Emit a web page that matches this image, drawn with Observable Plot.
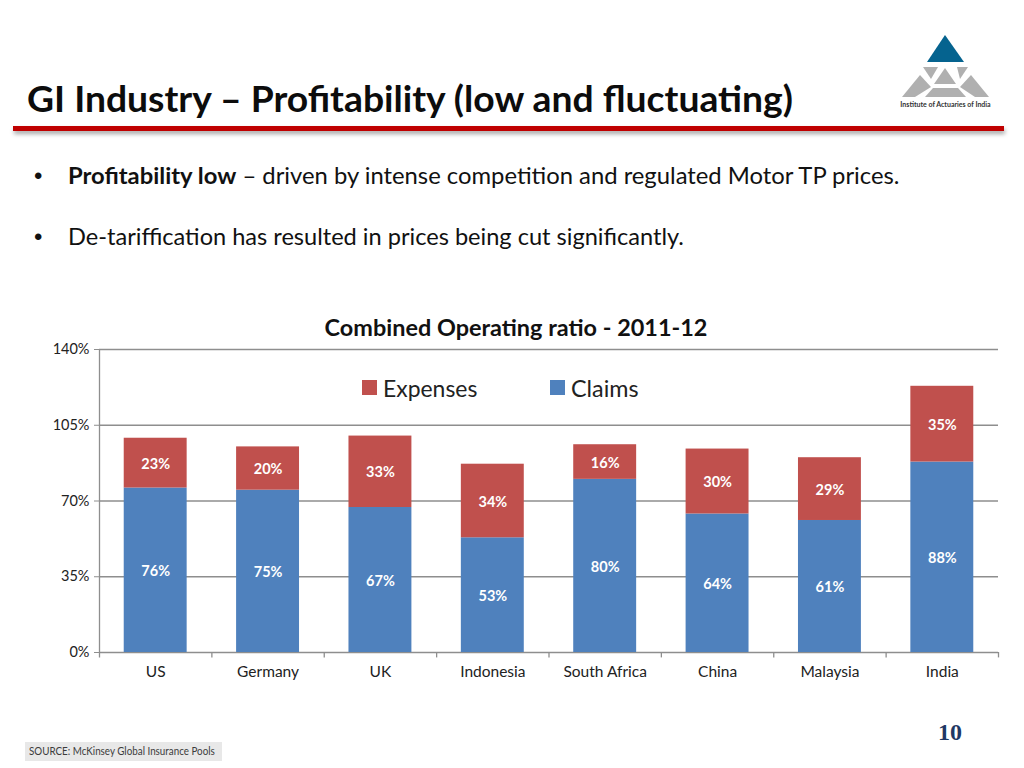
<!DOCTYPE html>
<html><head><meta charset="utf-8">
<script src="https://cdn.jsdelivr.net/npm/d3@7"></script>
<script src="https://cdn.jsdelivr.net/npm/@observablehq/plot@0.6"></script>
<style>
html,body{margin:0;padding:0;background:#fff;width:1024px;height:768px;overflow:hidden;font-family:Lato,"Open Sans",sans-serif;color:#111}
#chart{position:absolute;left:0;top:0}
.t{position:absolute;white-space:nowrap;line-height:1}
svg{display:block}
</style></head><body>
<div id="chart"></div>
<div class="t" style="left:27px;top:80px;font-size:36px;font-weight:700;color:#0c0c0c;transform-origin:0 0;transform:scaleX(1.035)">GI Industry – Profitability (low and fluctuating)</div>
<div style="position:absolute;left:13px;top:126px;width:991px;height:4.5px;background:#c00000;box-shadow:1px 3px 4px rgba(0,0,0,.35)"></div>
<svg style="position:absolute;left:0;top:0" width="1024" height="140">
<polygon points="945,35 927,62 964,62" fill="#05638f"/>
<g fill="#b0b0b0">
<polygon points="923,67 938,67 931,79"/><polygon points="957,67 968,67 960,79"/>
<polygon points="945,68 956,84 934,84"/>
<polygon points="902,97 920,75 931,87 915,97"/><polygon points="925,97 933,88 958,88 966,97"/>
<polygon points="989,97 971,75 960,87 975,97"/>
</g>
<text x="945.500" y="107" text-anchor="middle" font-size="7" font-weight="700" fill="#333" font-family="Lato">Institute of Actuaries of India</text>
</svg>
<div class="t" style="left:34px;top:164px;font-size:24px;font-family:'Liberation Sans'">•</div>
<div class="t" style="left:68px;top:164px;font-size:23px;transform-origin:0 0;transform:scaleX(1.035)"><b>Profitability low</b> – driven by intense competition and regulated Motor TP prices.</div>
<div class="t" style="left:34px;top:225px;font-size:24px;font-family:'Liberation Sans'">•</div>
<div class="t" style="left:68px;top:225px;font-size:23px;transform-origin:0 0;transform:scaleX(1.025)">De-tariffication has resulted in prices being cut significantly.</div>
<div class="t" style="left:0;width:1032px;text-align:center;top:316px;font-size:23px;font-weight:700;transform-origin:516px 0;transform:scaleX(1.019)">Combined Operating ratio - 2011-12</div>
<div style="position:absolute;left:362px;top:380px;width:15px;height:15px;background:#c0504d"></div>
<div class="t" style="left:383px;top:377px;font-size:23px;color:#222;transform-origin:0 0;transform:scaleX(.997)">Expenses</div>
<div style="position:absolute;left:550px;top:380px;width:15px;height:15px;background:#4f81bd"></div>
<div class="t" style="left:571px;top:377px;font-size:23px;color:#222;transform-origin:0 0;transform:scaleX(1.015)">Claims</div>
<div class="t" style="left:938px;top:720px;font-size:24px;font-weight:700;font-family:'Liberation Serif',serif;color:#1f3864">10</div>
<div style="position:absolute;left:25px;top:742px;width:197px;height:19px;background:#e8e8e8"></div>
<div class="t" style="left:29px;top:745px;font-size:12px;color:#3c3c3c;transform-origin:0 0;transform:scaleX(.818)">SOURCE: McKinsey Global Insurance Pools</div>
<script>
const categories = ["US","Germany","UK","Indonesia","South Africa","China","Malaysia","India"];
const claims = [76,75,67,53,80,64,61,88];
const expenses = [23,20,33,34,16,30,29,35];
const yTicks = [0,35,70,105,140];
const seriesNames = ["Claims","Expenses"];
const seriesColors = ["#4f81bd","#c0504d"];

const rows = categories.flatMap((c,i)=>[
  {category:c, series:"Claims", value:claims[i]},
  {category:c, series:"Expenses", value:expenses[i]}
]);
const W=1024,H=768,ML=99,MR=26,MT=349,MB=116;
const step=(W-ML-MR)/categories.length;
const grey="#8e8e8e";
const plot = Plot.plot({
  width:W,height:H,marginLeft:ML,marginRight:MR,marginTop:MT,marginBottom:MB,
  style:{fontFamily:"Lato, sans-serif",background:"transparent"},
  x:{domain:categories,paddingInner:0.44,paddingOuter:0.22,align:0.5,round:false,label:null},
  y:{domain:[0,140],label:null},
  color:{domain:seriesNames,range:seriesColors},
  marks:[
    Plot.ruleY(yTicks,{stroke:grey,strokeWidth:1.300}),
    Plot.barY(rows,{x:"category",y:"value",fill:"series",order:seriesNames}),
    Plot.text(rows,Plot.stackY({x:"category",y:"value",z:"series",order:seriesNames,text:d=>d.value+"%",fill:"white",fontWeight:700,fontSize:14.500,dy:1})),
    Plot.ruleX(categories.slice(0,1),{x:d=>d,y1:-2.500,y2:140,dx:-step/2,stroke:grey,strokeWidth:1.300}),
    Plot.ruleX(categories,{x:d=>d,y1:-2.500,y2:0,dx:step/2,stroke:grey,strokeWidth:1.300}),
    Plot.axisY({ticks:yTicks,tickFormat:d=>d+"%",tickSize:5,tickPadding:5,stroke:grey,fontSize:14.500,color:"#222",label:null,anchor:"left"}),
    Plot.axisX({tickSize:0,tickPadding:13,fontSize:15.500,color:"#222",label:null})
  ]
});
document.getElementById("chart").appendChild(plot);
</script>
</body></html>
